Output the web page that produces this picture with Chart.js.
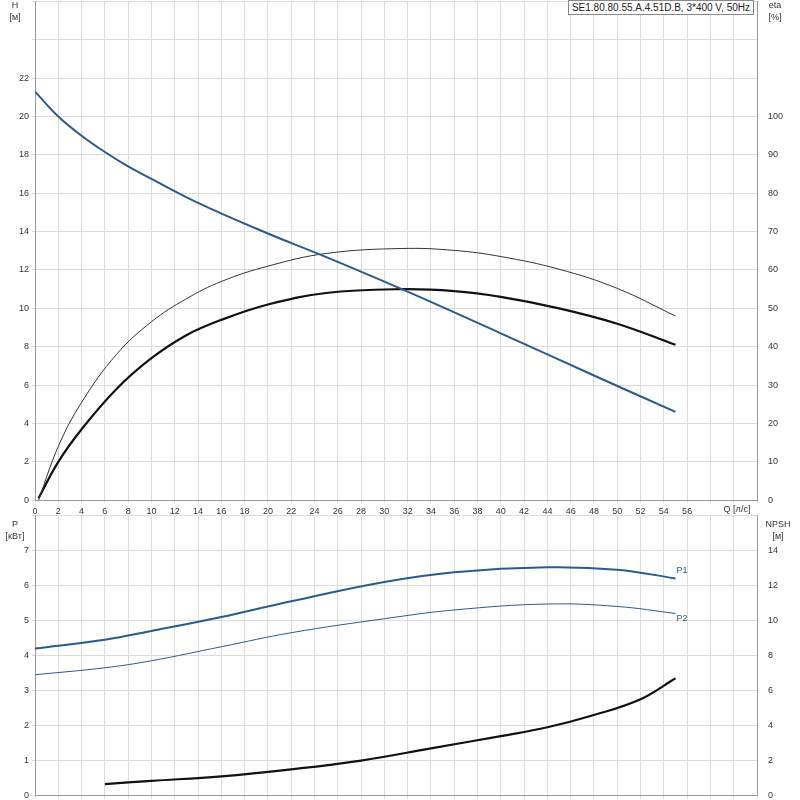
<!DOCTYPE html>
<html><head><meta charset="utf-8">
<script src="https://cdn.jsdelivr.net/npm/chart.js@4"></script>
<style>
body{margin:0;background:#fff;font-family:"Liberation Sans",Arial,sans-serif;overflow:hidden}
#wrap{position:relative;width:800px;height:800px;overflow:hidden}
canvas{position:absolute;left:0}
#title{position:absolute;right:46px;top:0;font-size:10px;border:1px solid #888;padding:1px 3px;background:#fff;color:#222}
</style></head><body>
<div id="wrap">
<canvas id="top" width="800" height="527" style="top:-7px"></canvas>
<canvas id="bot" width="800" height="297" style="top:507px"></canvas>
<div id="title">SE1.80.80.55.A.4.51D.B, 3*400 V, 50Hz</div>
</div>
<script>
const qH = [0, 2, 4, 6, 8, 10, 14, 20, 24.5, 31.5, 40, 48, 55];
const headH = [21.3, 20.0, 19.0, 18.15, 17.4, 16.75, 15.5, 13.9, 12.8, 11, 8.7, 6.5, 4.6];
const qEta = [0.3, 2, 4, 7, 10, 13, 16, 20, 25, 31.5, 36, 40, 45, 50, 55];
const etaTotal = [0, 14, 25.5, 38, 46.5, 52.5, 57, 61, 64.3, 65.6, 65.1, 63.5, 60.2, 55.2, 48];
const etaPump = [0.1, 2.0, 3.7, 5.8, 7.4, 8.6, 9.4, 10.2, 10.8, 11, 10.9, 10.6, 10.0, 9.2, 8.1];
const qP = [0, 6, 10, 16, 22, 30, 36, 44, 50, 55];
const p1 = [4.2, 4.45, 4.7, 5.1, 5.55, 6.1, 6.38, 6.52, 6.45, 6.2];
const p2 = [3.45, 3.65, 3.85, 4.25, 4.65, 5.05, 5.3, 5.47, 5.4, 5.2];
const qNpsh = [6, 10, 16, 22, 28, 34, 40, 44, 48, 52, 55];
const npsh = [0.66, 0.84, 1.1, 1.5, 2.0, 2.7, 3.4, 3.9, 4.6, 5.5, 6.7];

const pts = (xs, ys) => xs.map((x, i) => ({x, y: ys[i]}));
const font = {size: 9, family: "Liberation Sans"};
const grid = {color: '#dcdcdc', drawTicks: true, tickLength: 3};
const ds = (data, color, w, axis) => ({data, borderColor: color, borderWidth: w, pointRadius: 0, tension: 0.4, yAxisID: axis, fill: false});

function labels(items) {
  return {id: 'lbl', afterDraw(c) {
    const g = c.ctx; g.save(); g.font = '9px Liberation Sans'; g.textAlign = 'center';
    items.forEach(([t, x, y, col]) => { g.fillStyle = col || '#333'; g.fillText(t, x, y); });
    g.restore();
  }};
}
const xAxis = (show) => ({type: 'linear', min: 0, max: 62, grid,
  border: {color: '#999'},
  ticks: {stepSize: 2, font, color: '#333', display: show, autoSkip: false,
    callback: v => v <= 56 ? v : ''}});

new Chart(document.getElementById('top'), {
  type: 'line',
  data: {datasets: [
    ds(pts(qH, headH), '#2a5a8f', 2, 'y'),
    ds(pts(qEta, etaTotal), '#333', 1, 'eta'),
    ds(pts(qEta, etaPump), '#111', 2.2, 'y')
  ]},
  options: {responsive: false, animation: false, layout: {padding: {left: 0, right: 0}},
    plugins: {legend: {display: false}, tooltip: {enabled: false}},
    scales: {
      x: xAxis(true),
      y: {min: 0, max: 26, afterFit: a => a.width = 35, grid, border: {color: '#999'},
        ticks: {stepSize: 2, font, color: '#333', callback: v => v <= 22 ? v : ''}},
      eta: {position: 'right', min: 0, max: 130, afterFit: a => a.width = 43, grid: {display: false}, border: {color: '#999'},
        ticks: {stepSize: 10, font, color: '#333', callback: v => v <= 100 ? v : ''}}
    }},
  plugins: [labels([['H', 15, 15], ['[м]', 15, 27], ['eta', 775, 15], ['[%]', 775, 27], ['Q [л/с]', 737, 519]])]
});

new Chart(document.getElementById('bot'), {
  type: 'line',
  data: {datasets: [
    ds(pts(qP, p1), '#2a5a8f', 2, 'y'),
    ds(pts(qP, p2), '#2a5a8f', 1, 'y'),
    ds(pts(qNpsh, npsh), '#111', 2.2, 'n')
  ]},
  options: {responsive: false, animation: false, layout: {padding: {top: 2, bottom: 4}},
    plugins: {legend: {display: false}, tooltip: {enabled: false}},
    scales: {
      x: {...xAxis(false), ticks: {display: false, stepSize: 2}},
      y: {min: 0, max: 8, afterFit: a => a.width = 35, grid, border: {color: '#999'},
        ticks: {stepSize: 1, font, color: '#333', callback: v => v <= 7 ? v : ''}},
      n: {position: 'right', min: 0, max: 16, afterFit: a => a.width = 43, grid: {display: false}, border: {color: '#999'},
        ticks: {stepSize: 2, font, color: '#333', callback: v => v <= 14 ? v : ''}}
    }},
  plugins: [labels([['P', 15, 20], ['[кВт]', 15, 32], ['NPSH', 778, 20], ['[м]', 778, 32],
    ['P1', 682, 66, '#2a5a8f'], ['P2', 682, 114, '#2a5a8f']])]
});
</script>
</body></html>
